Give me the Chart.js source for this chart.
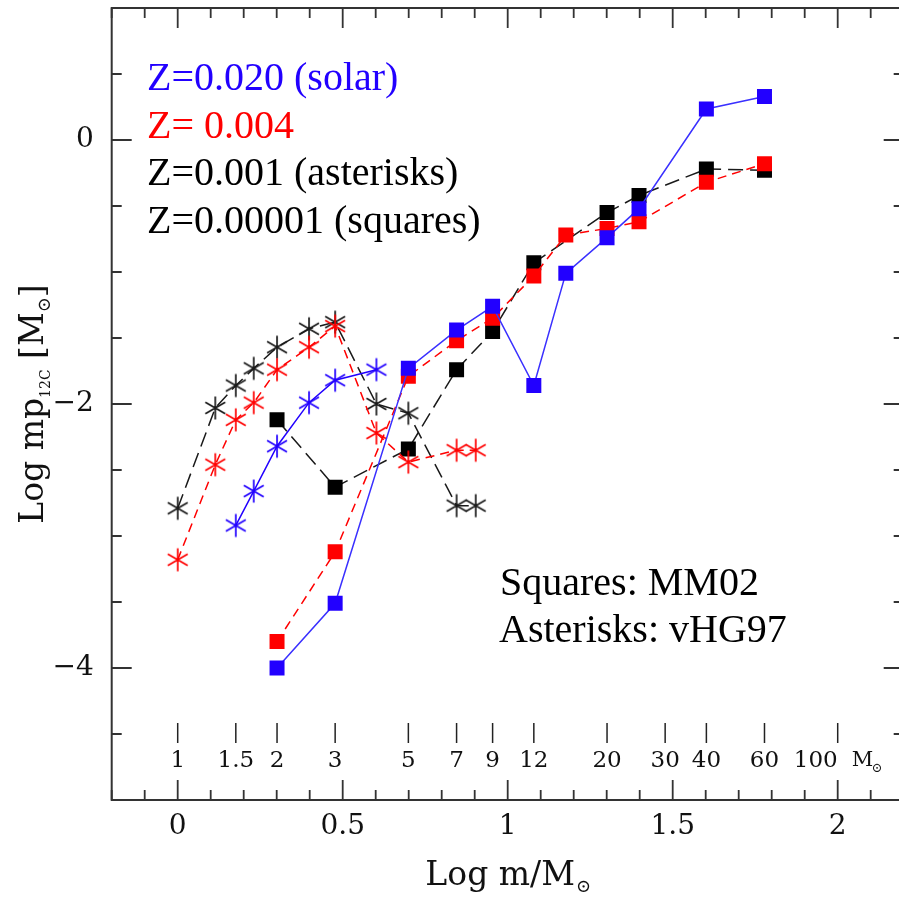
<!DOCTYPE html>
<html>
<head>
<meta charset="utf-8">
<script src="https://cdn.jsdelivr.net/npm/chart.js@4.4.0/dist/chart.umd.min.js"></script>
<style>
  html, body { margin: 0; padding: 0; background: #fff; overflow: hidden; }
  #wrap { width: 905px; height: 897px; }
</style>
</head>
<body>
<div id="wrap"><canvas id="chart" width="905" height="897"></canvas></div>
<script>
// masses in solar units, values are Log mp(12C)
const squareMasses = [2, 3, 5, 7, 9, 12, 15, 20, 25, 40, 60];
const blueSquares = [-4.0, -3.51, -1.73, -1.44, -1.26, -1.86, -1.01, -0.74, -0.52, 0.235, 0.33];
const redSquares = [-3.8, -3.12, -1.79, -1.52, -1.35, -1.03, -0.72, -0.67, -0.62, -0.32, -0.18];
const blackSquareMasses = [2, 3, 5, 7, 9, 12, 20, 25, 40, 60];
const blackSquares = [-2.12, -2.63, -2.34, -1.74, -1.45, -0.93, -0.55, -0.42, -0.22, -0.23];

const asteriskMasses = [1, 1.3, 1.5, 1.7, 2, 2.5, 3, 4, 5, 7, 8];
const blackAsterisks = [-2.79, -2.03, -1.86, -1.73, -1.57, -1.43, -1.38, -2.0, -2.07, -2.77, -2.77];
const redAsterisks = [-3.18, -2.46, -2.12, -1.99, -1.74, -1.57, -1.41, -2.22, -2.44, -2.35, -2.35];
const blueAsteriskMasses = [1.5, 1.7, 2, 2.5, 3, 4];
const blueAsterisks = [-2.92, -2.66, -2.32, -1.99, -1.82, -1.74];

const massTickLabels = [1, 1.5, 2, 3, 5, 7, 9, 12, 20, 30, 40, 60, 100];
const xTickLabels = [0, 0.5, 1, 1.5, 2];
const yTickLabels = [0, -2, -4];

const BLUE = "#2200ff";
const BLUE_LINE = "#3a30ff";
const RED = "#ff0000";
const BLACK = "#000000";
const TICK_FONT = "'DejaVu Serif', serif";
const TEXT_FONT = "'Liberation Serif', 'Times New Roman', serif";

const pts = (masses, ys) => masses.map((m, i) => ({ x: Math.log10(m), y: ys[i] }));

function makeAsterisk(color) {
  const c = document.createElement("canvas");
  c.width = 26;
  c.height = 26;
  const g = c.getContext("2d");
  g.strokeStyle = color;
  g.lineWidth = 1.7;
  g.beginPath();
  [90, 30, 150].forEach((deg) => {
    const r = (deg * Math.PI) / 180;
    g.moveTo(13 - 11.5 * Math.cos(r), 13 - 11.5 * Math.sin(r));
    g.lineTo(13 + 11.5 * Math.cos(r), 13 + 11.5 * Math.sin(r));
  });
  g.stroke();
  return c;
}

function squares(data, color, lineColor, dash) {
  return {
    data,
    showLine: true,
    borderColor: lineColor,
    borderWidth: 1.5,
    borderDash: dash,
    backgroundColor: color,
    pointBackgroundColor: color,
    pointStyle: "rect",
    pointRadius: 10.6,
    pointBorderWidth: 0,
  };
}

function asterisks(data, color, dash) {
  return {
    data,
    showLine: true,
    borderColor: color,
    borderWidth: 1.5,
    borderDash: dash,
    pointStyle: makeAsterisk(color),
    pointRadius: 11,
  };
}

const isNear = (v, list) => list.find((t) => Math.abs(t - v) < 1e-6);
const isMultiple = (v, step) => Math.abs(v / step - Math.round(v / step)) < 1e-6;

// inward ticks on all four sides, mass scale, texts and titles
const decor = {
  id: "decor",
  afterDraw(chart) {
    const { ctx, chartArea: a, scales } = chart;
    const x = scales.x;
    const y = scales.y;
    ctx.save();

    ctx.strokeStyle = "#333";
    ctx.lineWidth = 1.8;
    ctx.beginPath();
    x.ticks.forEach((t) => {
      const px = x.getPixelForValue(t.value);
      const len = isMultiple(t.value, 0.5) ? 20 : 10;
      ctx.moveTo(px, a.bottom);
      ctx.lineTo(px, a.bottom - len);
      ctx.moveTo(px, a.top);
      ctx.lineTo(px, a.top + len);
    });
    y.ticks.forEach((t) => {
      const py = y.getPixelForValue(t.value);
      const len = isMultiple(t.value, 2) ? 20 : 10;
      ctx.moveTo(a.left, py);
      ctx.lineTo(a.left + len, py);
      ctx.moveTo(a.right, py);
      ctx.lineTo(a.right - len, py);
    });
    ctx.stroke();
    ctx.lineWidth = 2;
    ctx.strokeRect(a.left, a.top, a.right - a.left, a.bottom - a.top);

    // mass scale inside the frame
    ctx.strokeStyle = "#222";
    ctx.fillStyle = "#111";
    ctx.lineWidth = 1.5;
    ctx.font = "23px " + TICK_FONT;
    ctx.textBaseline = "middle";
    let lastPx = 0;
    massTickLabels.forEach((m, i) => {
      const px = x.getPixelForValue(Math.log10(m));
      ctx.beginPath();
      ctx.moveTo(px, a.bottom - 77);
      ctx.lineTo(px, a.bottom - 57);
      ctx.stroke();
      const last = i === massTickLabels.length - 1;
      ctx.textAlign = last ? "right" : "center";
      ctx.fillText(String(m), px, a.bottom - 39);
      lastPx = px;
    });
    ctx.textAlign = "left";
    ctx.font = "21px " + TICK_FONT;
    ctx.fillText("M", lastPx + 14, a.bottom - 39);
    ctx.font = "13px " + TICK_FONT;
    ctx.fillText("\u2299", lastPx + 34, a.bottom - 31);

    // annotations
    ctx.textBaseline = "alphabetic";
    ctx.font = "40px " + TEXT_FONT;
    const notes = [
      ["Z=0.020 (solar)", BLUE, 147, 90],
      ["Z= 0.004", RED, 147, 137.5],
      ["Z=0.001 (asterisks)", BLACK, 147, 185],
      ["Z=0.00001 (squares)", BLACK, 147, 232.5],
      ["Squares: MM02", BLACK, 500, 595],
      ["Asterisks: vHG97", BLACK, 499, 642],
    ];
    notes.forEach(([txt, col, tx, ty]) => {
      ctx.fillStyle = col;
      ctx.fillText(txt, tx, ty);
    });

    // x title: Log m/M_sun
    ctx.fillStyle = "#111";
    const cx = (a.left + a.right) / 2;
    ctx.font = "33px " + TICK_FONT;
    const main = "Log m/M";
    const w1 = ctx.measureText(main).width;
    ctx.font = "18px " + TICK_FONT;
    const w2 = ctx.measureText("\u2299").width;
    const sx = cx - (w1 + w2) / 2;
    ctx.font = "33px " + TICK_FONT;
    ctx.fillText(main, sx, 885);
    ctx.font = "18px " + TICK_FONT;
    ctx.fillText("\u2299", sx + w1 + 1, 892);

    // y title: Log mp_12C [M_sun]
    const cy = (a.top + a.bottom) / 2;
    ctx.translate(43, cy);
    ctx.rotate(-Math.PI / 2);
    const parts = [
      ["Log mp", 33, 0],
      ["12C", 14, 7],
      [" [M", 33, 0],
      ["\u2299", 18, 7],
      ["]", 33, 0],
    ];
    let total = 0;
    parts.forEach(([s, size]) => {
      ctx.font = size + "px " + TICK_FONT;
      total += ctx.measureText(s).width;
    });
    let px = -total / 2;
    parts.forEach(([s, size, dy]) => {
      ctx.font = size + "px " + TICK_FONT;
      ctx.fillText(s, px, dy);
      px += ctx.measureText(s).width;
    });
    ctx.restore();
  },
};

const ctx = document.getElementById("chart").getContext("2d");
new Chart(ctx, {
  type: "scatter",
  data: {
    datasets: [
      squares(pts(squareMasses, blueSquares), BLUE, BLUE_LINE, []),
      asterisks(pts(blueAsteriskMasses, blueAsterisks), BLUE, []),
      squares(pts(squareMasses, redSquares), RED, RED, [9, 6]),
      asterisks(pts(asteriskMasses, redAsterisks), RED, [9, 6]),
      squares(pts(blackSquareMasses, blackSquares), BLACK, "#1a1a1a", [15, 7]),
      asterisks(pts(asteriskMasses, blackAsterisks), "#1a1a1a", [15, 7]),
    ],
  },
  options: {
    responsive: false,
    animation: false,
    devicePixelRatio: 1,
    layout: { autoPadding: false, padding: { top: 8, right: 1.3, left: 0, bottom: 0 } },
    elements: { line: { tension: 0 } },
    plugins: {
      legend: { display: false },
      tooltip: { enabled: false },
    },
    scales: {
      x: {
        type: "linear",
        min: -0.2,
        max: 2.2,
        grid: { display: false, drawTicks: false },
        border: { display: false },
        ticks: {
          stepSize: 0.1,
          autoSkip: false,
          maxRotation: 0,
          padding: 10,
          color: "#111",
          font: { family: TICK_FONT, size: 28 },
          callback: (v) => {
            const t = isNear(v, xTickLabels);
            return t === undefined ? "" : String(t);
          },
        },
        afterFit: (s) => {
          s.height = 97;
          s.paddingLeft = 0;
          s.paddingRight = 0;
        },
      },
      y: {
        type: "linear",
        min: -5,
        max: 1,
        grid: { display: false, drawTicks: false },
        border: { display: false },
        ticks: {
          stepSize: 0.5,
          autoSkip: false,
          padding: 18,
          color: "#111",
          font: { family: TICK_FONT, size: 28 },
          callback: (v) => {
            const t = isNear(v, yTickLabels);
            if (t === undefined) return "";
            return t < 0 ? "\u2212" + Math.abs(t) : String(t);
          },
        },
        afterFit: (s) => {
          s.width = 111.7;
          s.paddingTop = 0;
          s.paddingBottom = 0;
        },
      },
    },
  },
  plugins: [decor],
});
</script>
</body>
</html>
